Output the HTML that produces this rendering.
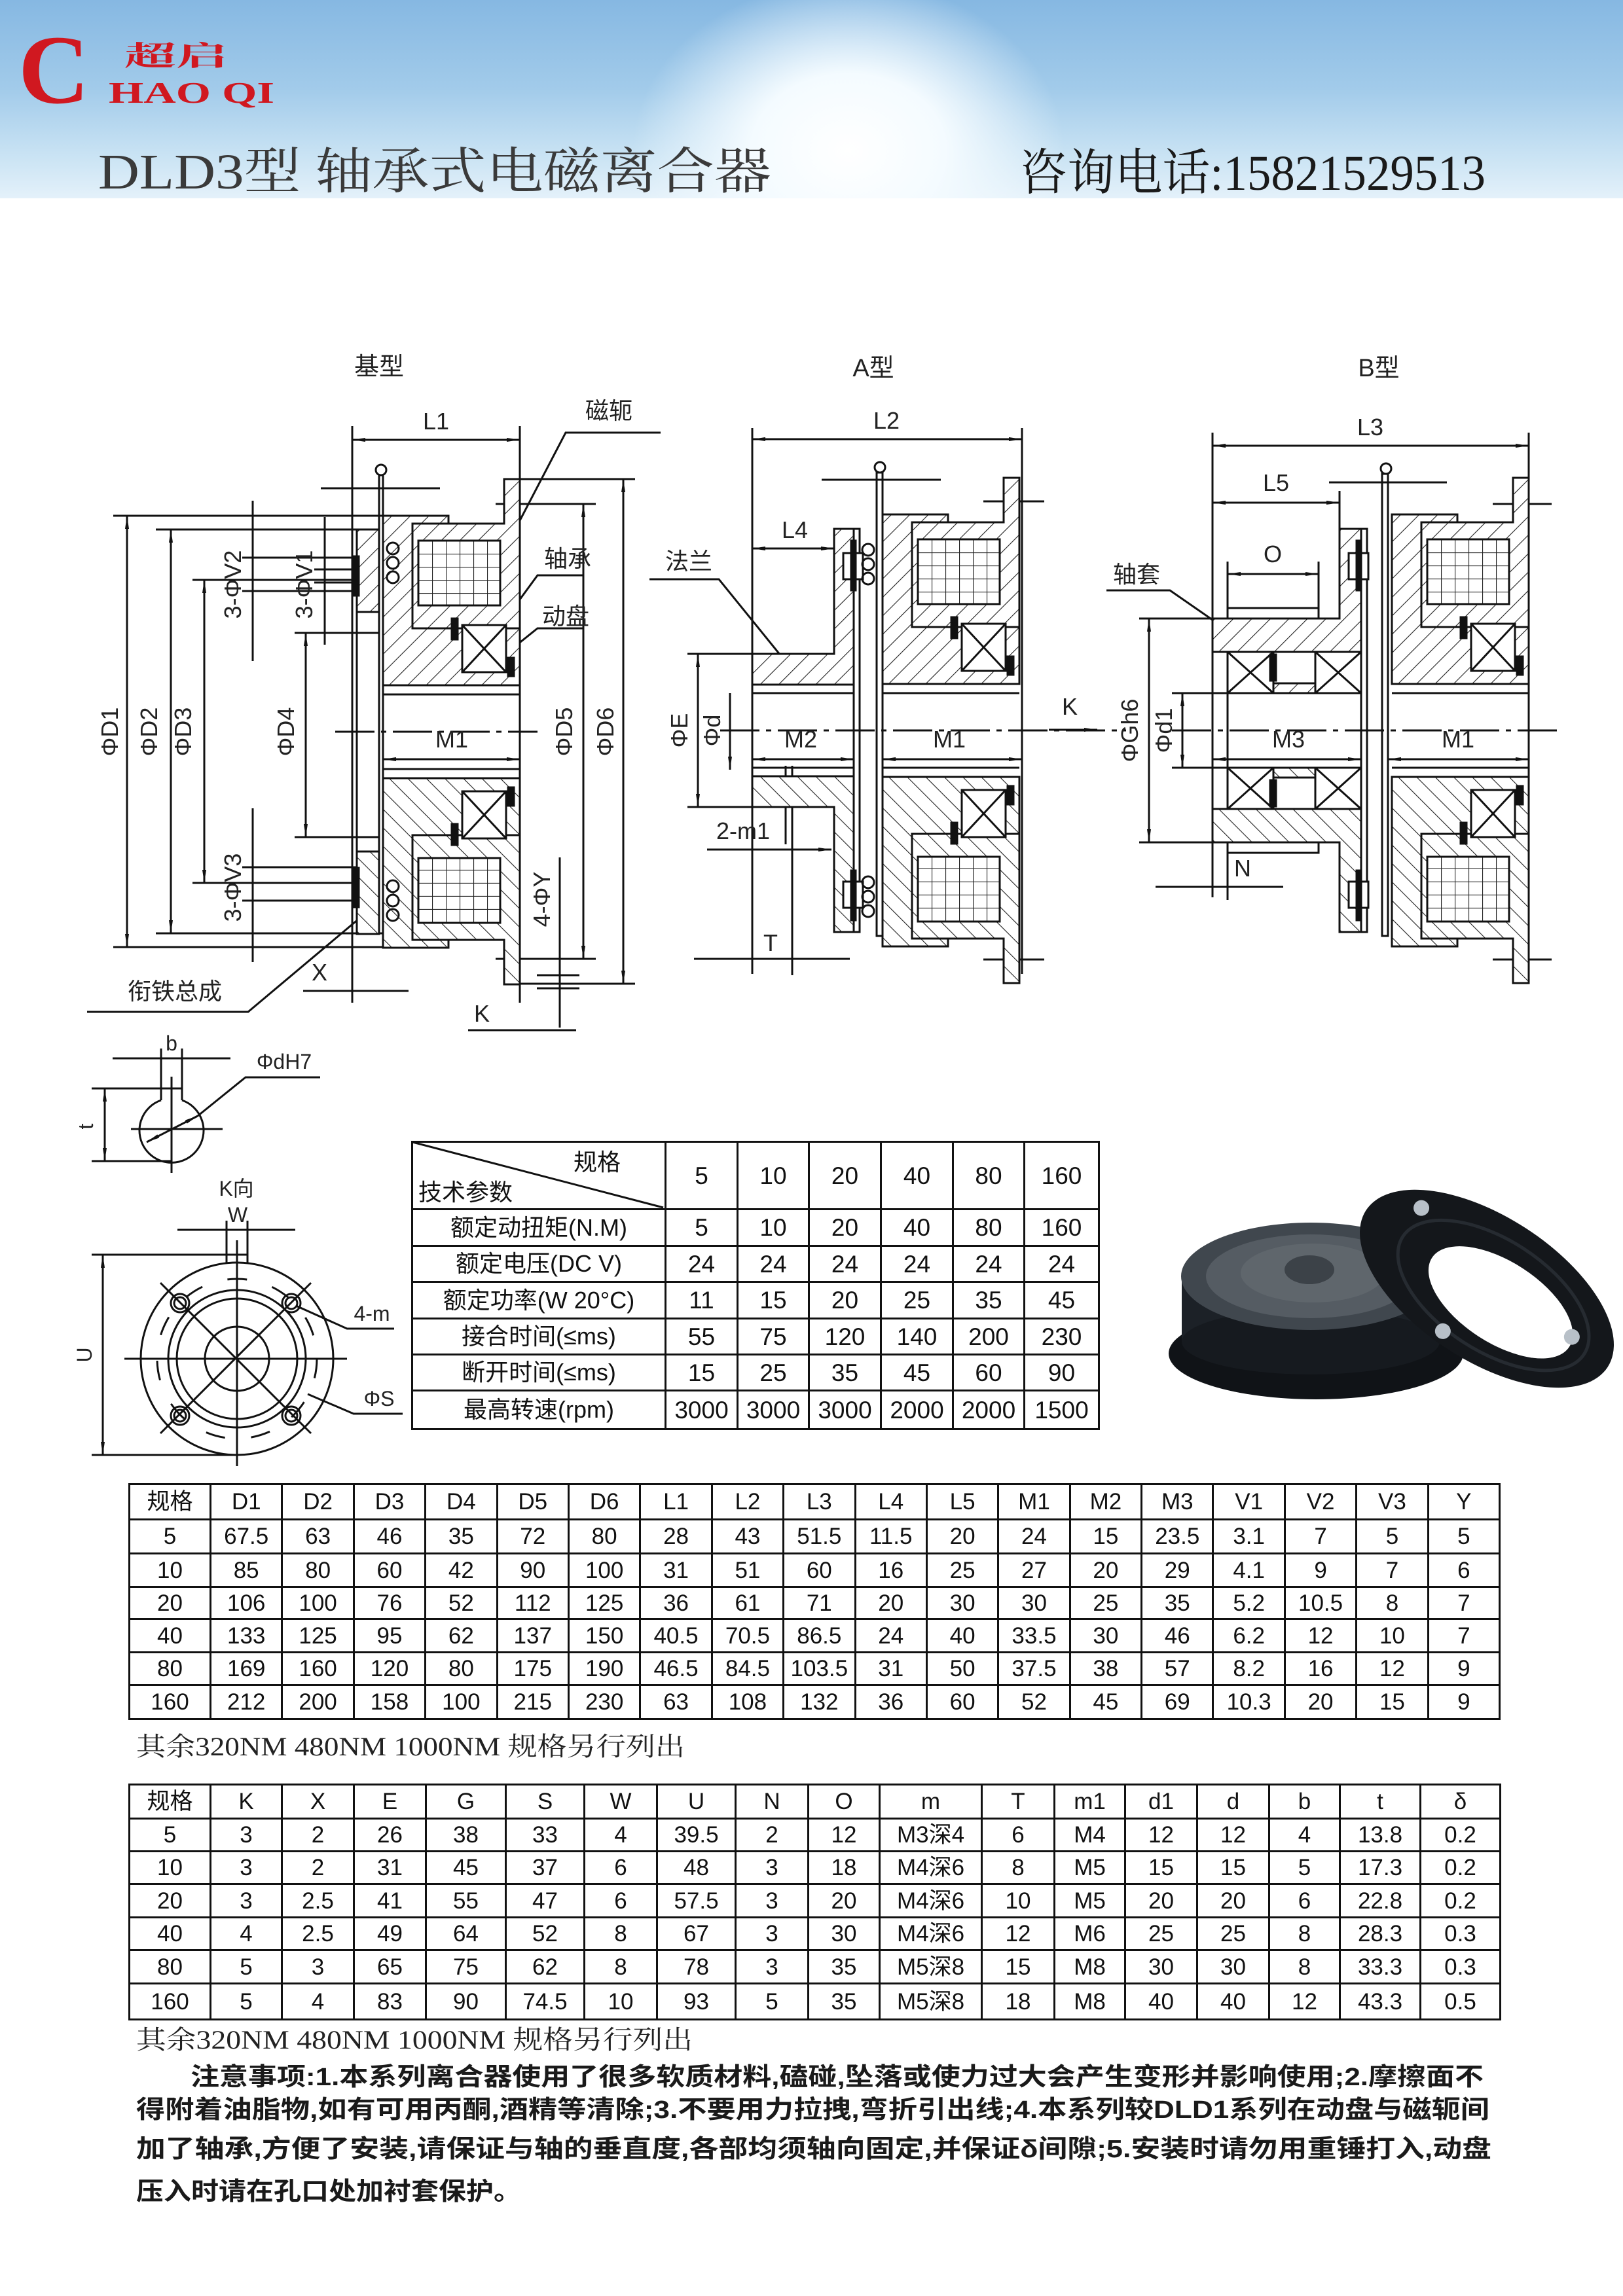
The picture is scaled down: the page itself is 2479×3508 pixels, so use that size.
<!DOCTYPE html>
<html><head><meta charset="utf-8">
<style>
html,body{margin:0;padding:0;background:#fff;}
body{width:2479px;height:3508px;position:relative;overflow:hidden;font-family:"Liberation Sans","Noto Sans CJK SC",sans-serif;}
#hdr{position:absolute;left:0;top:0;width:2479px;height:303px;
background:radial-gradient(ellipse 330px 260px at 1296px 230px,#ffffff 0%,#f4fbff 45%,rgba(220,238,250,0) 100%),linear-gradient(#86b8e2 0%,#a2cbea 45%,#cbe4f4 80%,#e4f1fa 100%);}
table{position:absolute;border-collapse:collapse;table-layout:fixed;font-family:"Liberation Sans Narrow","Liberation Sans","Noto Sans CJK SC",sans-serif;color:#111;}
td{border:3px solid #111;text-align:center;padding:0;white-space:nowrap;overflow:hidden;font-size:36px;line-height:1;}
.t td{font-size:35px;}
.s td{font-size:37px;}
.s td.h{font-family:"Liberation Sans","Noto Sans CJK SC",sans-serif;font-size:36px;}
.cj{font-family:"Liberation Sans","Noto Sans CJK SC",sans-serif;font-size:32px;}
</style></head><body>
<div id="hdr"></div>
<svg width="2479" height="3508" style="position:absolute;left:0;top:0" xmlns="http://www.w3.org/2000/svg">
<defs>
<pattern id="h" patternUnits="userSpaceOnUse" width="20" height="20" patternTransform="rotate(45)"><rect width="20" height="20" fill="#fff"/><line x1="0" y1="0" x2="0" y2="20" stroke="#222" stroke-width="2.2"/></pattern>
<pattern id="g" patternUnits="userSpaceOnUse" width="21" height="20" x="639" y="826"><rect width="21" height="20" fill="#fff"/><path d="M0,0H21M0,0V20" stroke="#222" stroke-width="2.2" fill="none"/></pattern>
<marker id="a" viewBox="0 0 20 8" refX="20" refY="4" markerWidth="20" markerHeight="8" orient="auto-start-reverse" markerUnits="userSpaceOnUse"><path d="M0,1 L20,4 L0,7z" fill="#111"/></marker>
<g id="RU" stroke="#111" stroke-width="3">
 <polygon fill="url(#h)" points="585,788 685,788 685,800 630,800 630,960 794,960 794,1047 585,1047"/>
 <polygon fill="url(#h)" points="630,800 770,800 770,732 794,732 794,960 630,960"/>
 <rect x="639" y="826" width="125" height="99" fill="url(#g)"/>
 <rect x="706" y="955" width="67" height="72" fill="#fff"/>
 <path d="M706,955L773,1027M773,955L706,1027" fill="none"/>
 <rect x="690" y="945" width="9" height="32" fill="#111"/>
 <rect x="776" y="1005" width="9" height="28" fill="#111"/>
 <line x1="585" y1="1061" x2="794" y2="1061"/>
</g>
<g id="BL" stroke="#111" stroke-width="3">
 <rect x="545" y="809" width="34" height="126" fill="url(#h)"/>
 <rect x="538" y="850" width="10" height="60" fill="#111"/>
 <circle cx="600" cy="838" r="9" fill="none"/><circle cx="600" cy="860" r="9" fill="none"/><circle cx="600" cy="882" r="9" fill="none"/>
</g>
<g id="AL" stroke="#111" stroke-width="3">
 <polygon fill="url(#h)" points="1149,999 1274,999 1274,808 1304,808 1304,1046 1149,1046"/>
 <rect x="1288" y="845" width="30" height="40" fill="#fff"/>
 <rect x="1300" y="826" width="7" height="76" fill="#111"/>
 <line x1="1149" y1="1059" x2="1304" y2="1059"/>
 <circle cx="1326" cy="840" r="9" fill="none"/><circle cx="1326" cy="862" r="9" fill="none"/><circle cx="1326" cy="884" r="9" fill="none"/>
</g>
<g id="BBL" stroke="#111" stroke-width="3">
 <polygon fill="url(#h)" points="1852,945 2046,945 2046,808 2079,808 2079,996 1852,996"/>
 <rect x="1875" y="929" width="139" height="16" fill="#fff"/>
 <rect x="1875" y="996" width="70" height="63" fill="#fff"/><path d="M1875,996L1945,1059M1945,996L1875,1059" fill="none"/>
 <rect x="2009" y="996" width="70" height="63" fill="#fff"/><path d="M2009,996L2079,1059M2079,996L2009,1059" fill="none"/>
 <rect x="1945" y="1044" width="64" height="15" fill="url(#h)"/>
 <rect x="1940" y="1000" width="9" height="40" fill="#111"/>
 <line x1="1852" y1="1059" x2="2079" y2="1059"/>
 <rect x="2060" y="845" width="30" height="40" fill="#fff"/>
 <rect x="2072" y="826" width="7" height="76" fill="#111"/>
</g>
</defs>

<!-- header text -->
<text x="28" y="157" font-family="Liberation Serif,serif" font-size="150" fill="#d01820" font-weight="bold">C</text>
<text x="190" y="100" font-family="Liberation Serif,'Noto Serif CJK SC',serif" font-size="42" fill="#d01820" font-weight="bold" textLength="158" lengthAdjust="spacingAndGlyphs">超启</text>
<text x="166" y="157" font-family="Liberation Serif,serif" font-size="46" fill="#d01820" font-weight="bold" textLength="253" lengthAdjust="spacingAndGlyphs">HAO  QI</text>
<text x="150" y="288" font-family="Liberation Serif,'Noto Serif CJK SC',serif" font-size="76" fill="#3a3a3a" textLength="1028" lengthAdjust="spacingAndGlyphs">DLD3型 轴承式电磁离合器</text>
<text x="1557" y="290" font-family="Liberation Serif,'Noto Serif CJK SC',serif" font-size="76" fill="#1a1a1a" textLength="712" lengthAdjust="spacingAndGlyphs">咨询电话:15821529513</text>

<g font-family="Liberation Sans,'Noto Sans CJK SC',sans-serif" font-size="38" fill="#222">
<text x="579" y="573" text-anchor="middle">基型</text>
<text x="1334" y="575" text-anchor="middle">A型</text>
<text x="2106" y="575" text-anchor="middle">B型</text>
</g>

<!-- ===== BASE TYPE ===== -->
<g stroke="#111" stroke-width="3" fill="none">
 <line x1="538" y1="651" x2="538" y2="1532"/><line x1="794" y1="651" x2="794" y2="1532"/>
 <line x1="538" y1="672" x2="794" y2="672" marker-start="url(#a)" marker-end="url(#a)"/>
 <circle cx="582" cy="718" r="8"/>
 <rect x="579" y="726" width="6" height="700" fill="#fff"/>
 <line x1="545" y1="809" x2="545" y2="1426"/>
 <line x1="490" y1="746" x2="672" y2="746"/>
 <line x1="512" y1="1118" x2="821" y2="1118" stroke-dasharray="60,10,8,10"/>
 <line x1="585" y1="1160" x2="794" y2="1160" marker-start="url(#a)" marker-end="url(#a)"/>
 <line x1="173" y1="788" x2="685" y2="788"/><line x1="173" y1="1447" x2="685" y2="1447"/>
 <line x1="194" y1="788" x2="194" y2="1447" marker-start="url(#a)" marker-end="url(#a)"/>
 <line x1="238" y1="809" x2="545" y2="809"/><line x1="238" y1="1426" x2="545" y2="1426"/>
 <line x1="261" y1="809" x2="261" y2="1426" marker-start="url(#a)" marker-end="url(#a)"/>
 <line x1="294" y1="886" x2="560" y2="886"/><line x1="294" y1="1349" x2="560" y2="1349"/>
 <line x1="312" y1="886" x2="312" y2="1349" marker-start="url(#a)" marker-end="url(#a)"/>
 <line x1="450" y1="967" x2="579" y2="967"/><line x1="450" y1="1279" x2="579" y2="1279"/>
 <line x1="467" y1="967" x2="467" y2="1279" marker-start="url(#a)" marker-end="url(#a)"/>
 <line x1="757" y1="770" x2="910" y2="770"/><line x1="757" y1="1465" x2="910" y2="1465"/>
 <line x1="891" y1="770" x2="891" y2="1465" marker-start="url(#a)" marker-end="url(#a)"/>
 <line x1="794" y1="732" x2="970" y2="732"/><line x1="794" y1="1503" x2="970" y2="1503"/>
 <line x1="952" y1="732" x2="952" y2="1503" marker-start="url(#a)" marker-end="url(#a)"/>
 <line x1="386" y1="765" x2="386" y2="1010"/><line x1="370" y1="852" x2="560" y2="852"/><line x1="370" y1="903" x2="560" y2="903"/>
 <line x1="496" y1="790" x2="496" y2="985"/><line x1="480" y1="870" x2="545" y2="870"/><line x1="480" y1="890" x2="545" y2="890"/>
 <line x1="386" y1="1235" x2="386" y2="1470"/><line x1="370" y1="1325" x2="545" y2="1325"/><line x1="370" y1="1376" x2="545" y2="1376"/>
 <line x1="855" y1="1310" x2="855" y2="1570"/><line x1="820" y1="1490" x2="885" y2="1490"/><line x1="820" y1="1510" x2="885" y2="1510"/>
 <line x1="463" y1="1514" x2="624" y2="1514"/><line x1="715" y1="1574" x2="880" y2="1574"/>
 <polyline points="1009,661 864,661 778,826"/>
 <polyline points="891,879 821,879 739,991"/>
 <polyline points="891,960 821,960 730,1033"/>
 <polyline points="133,1546 379,1546 567,1388"/>
</g>
<use href="#RU"/><use href="#RU" transform="translate(0,2236) scale(1,-1)"/>
<use href="#BL"/><use href="#BL" transform="translate(0,2236) scale(1,-1)"/>
<g font-family="Liberation Sans,'Noto Sans CJK SC',sans-serif" font-size="36" fill="#222">
 <text x="666" y="656" text-anchor="middle">L1</text>
 <text x="690" y="1142" text-anchor="middle">M1</text>
 <text x="930" y="640" text-anchor="middle">磁轭</text>
 <text x="867" y="866" text-anchor="middle">轴承</text>
 <text x="864" y="954" text-anchor="middle">动盘</text>
 <text x="267" y="1527" text-anchor="middle">衔铁总成</text>
 <text x="488" y="1498" text-anchor="middle">X</text>
 <text x="736" y="1561" text-anchor="middle">K</text>
 <g text-anchor="middle">
 <text transform="translate(180,1118) rotate(-90)">ΦD1</text>
 <text transform="translate(240,1118) rotate(-90)">ΦD2</text>
 <text transform="translate(292,1118) rotate(-90)">ΦD3</text>
 <text transform="translate(449,1118) rotate(-90)">ΦD4</text>
 <text transform="translate(874,1118) rotate(-90)">ΦD5</text>
 <text transform="translate(937,1118) rotate(-90)">ΦD6</text>
 <text transform="translate(368,893) rotate(-90)">3-ΦV2</text>
 <text transform="translate(477,893) rotate(-90)">3-ΦV1</text>
 <text transform="translate(368,1356) rotate(-90)">3-ΦV3</text>
 <text transform="translate(840,1374) rotate(-90)">4-ΦY</text>
 </g>
</g>

<!-- ===== A TYPE ===== -->
<g stroke="#111" stroke-width="3" fill="none">
 <line x1="1149" y1="654" x2="1149" y2="1488"/><line x1="1561" y1="654" x2="1561" y2="1488"/>
 <line x1="1149" y1="671" x2="1561" y2="671" marker-start="url(#a)" marker-end="url(#a)"/>
 <circle cx="1344" cy="714" r="8"/>
 <rect x="1304" y="808" width="9" height="616" fill="#fff"/>
 <rect x="1339" y="722" width="9" height="708" fill="#fff"/>
 <line x1="1255" y1="733" x2="1437" y2="733"/>
 <line x1="1502" y1="766" x2="1595" y2="766"/><line x1="1502" y1="1466" x2="1595" y2="1466"/>
 <line x1="1149" y1="838" x2="1274" y2="838" marker-start="url(#a)" marker-end="url(#a)"/>
 <line x1="1050" y1="999" x2="1149" y2="999"/><line x1="1050" y1="1233" x2="1149" y2="1233"/>
 <line x1="1066" y1="999" x2="1066" y2="1233" marker-start="url(#a)" marker-end="url(#a)"/>
 <line x1="1115" y1="1059" x2="1115" y2="1176" marker-end="url(#a)"/>
 <line x1="1100" y1="1116" x2="1720" y2="1116" stroke-dasharray="60,10,8,10"/>
 <line x1="1149" y1="1160" x2="1304" y2="1160" marker-start="url(#a)" marker-end="url(#a)"/>
 <line x1="1348" y1="1160" x2="1561" y2="1160" marker-start="url(#a)" marker-end="url(#a)"/>
 <line x1="1602" y1="1115" x2="1676" y2="1115" marker-end="url(#a)"/>
 <line x1="1200" y1="1170" x2="1200" y2="1290"/><line x1="1210" y1="1170" x2="1210" y2="1490"/>
 <line x1="1080" y1="1298" x2="1270" y2="1298" marker-end="url(#a)"/>
 <line x1="1060" y1="1465" x2="1298" y2="1465"/>
 <polyline points="992,885 1098,885 1209,1022"/>
</g>
<use href="#AL"/><use href="#AL" transform="translate(0,2232) scale(1,-1)"/>
<use href="#RU" transform="translate(763,-2)"/><use href="#RU" transform="translate(763,2234) scale(1,-1)"/>
<g font-family="Liberation Sans,'Noto Sans CJK SC',sans-serif" font-size="36" fill="#222">
 <text x="1354" y="655" text-anchor="middle">L2</text>
 <text x="1214" y="822" text-anchor="middle">L4</text>
 <text x="1052" y="870" text-anchor="middle">法兰</text>
 <text x="1223" y="1142" text-anchor="middle">M2</text>
 <text x="1450" y="1142" text-anchor="middle">M1</text>
 <text x="1634" y="1092" text-anchor="middle">K</text>
 <text x="1135" y="1282" text-anchor="middle">2-m1</text>
 <text x="1177" y="1453" text-anchor="middle">T</text>
 <text transform="translate(1050,1116) rotate(-90)" text-anchor="middle">ΦE</text>
 <text transform="translate(1100,1116) rotate(-90)" text-anchor="middle">Φd</text>
</g>

<!-- ===== B TYPE ===== -->
<g stroke="#111" stroke-width="3" fill="none">
 <line x1="1852" y1="661" x2="1852" y2="1371"/><line x1="2335" y1="661" x2="2335" y2="1488"/>
 <line x1="1875" y1="929" x2="1875" y2="1375"/>
 <line x1="1852" y1="681" x2="2335" y2="681" marker-start="url(#a)" marker-end="url(#a)"/>
 <line x1="2046" y1="750" x2="2046" y2="808"/>
 <line x1="1852" y1="768" x2="2046" y2="768" marker-start="url(#a)" marker-end="url(#a)"/>
 <line x1="2014" y1="858" x2="2014" y2="929"/><line x1="1875" y1="858" x2="1875" y2="929"/>
 <line x1="1875" y1="877" x2="2014" y2="877" marker-start="url(#a)" marker-end="url(#a)"/>
 <circle cx="2117" cy="716" r="8"/>
 <rect x="2079" y="808" width="9" height="616" fill="#fff"/>
 <rect x="2111" y="724" width="9" height="706" fill="#fff"/>
 <line x1="2030" y1="737" x2="2210" y2="737"/>
 <line x1="2280" y1="770" x2="2370" y2="770"/><line x1="2280" y1="1466" x2="2370" y2="1466"/>
 <line x1="1740" y1="945" x2="1852" y2="945"/><line x1="1740" y1="1287" x2="1852" y2="1287"/>
 <line x1="1755" y1="945" x2="1755" y2="1287" marker-start="url(#a)" marker-end="url(#a)"/>
 <line x1="1790" y1="1059" x2="1852" y2="1059"/><line x1="1790" y1="1173" x2="1852" y2="1173"/>
 <line x1="1806" y1="1059" x2="1806" y2="1173" marker-start="url(#a)" marker-end="url(#a)"/>
 <line x1="1790" y1="1116" x2="2380" y2="1116" stroke-dasharray="60,10,8,10"/>
 <line x1="1852" y1="1160" x2="2079" y2="1160" marker-start="url(#a)" marker-end="url(#a)"/>
 <line x1="2120" y1="1160" x2="2335" y2="1160" marker-start="url(#a)" marker-end="url(#a)"/>
 <line x1="1765" y1="1355" x2="1960" y2="1355"/>
 <polyline points="1690,902 1787,902 1898,979"/>
</g>
<use href="#BBL"/><use href="#BBL" transform="translate(0,2232) scale(1,-1)"/>
<use href="#RU" transform="translate(1541,-2)"/><use href="#RU" transform="translate(1541,2234) scale(1,-1)"/>
<g font-family="Liberation Sans,'Noto Sans CJK SC',sans-serif" font-size="36" fill="#222">
 <text x="2093" y="665" text-anchor="middle">L3</text>
 <text x="1949" y="750" text-anchor="middle">L5</text>
 <text x="1944" y="859" text-anchor="middle">O</text>
 <text x="1736" y="890" text-anchor="middle">轴套</text>
 <text x="1968" y="1142" text-anchor="middle">M3</text>
 <text x="2227" y="1142" text-anchor="middle">M1</text>
 <text x="1898" y="1339" text-anchor="middle">N</text>
 <text transform="translate(1738,1116) rotate(-90)" text-anchor="middle">ΦGh6</text>
 <text transform="translate(1790,1116) rotate(-90)" text-anchor="middle">Φd1</text>
</g>

<!-- ===== keyway & K view ===== -->
<g stroke="#111" stroke-width="3" fill="none">
 <path d="M246,1681 A49,49 0 1 0 278,1681"/>
 <line x1="246" y1="1602" x2="246" y2="1681"/><line x1="278" y1="1602" x2="278" y2="1681"/>
 <line x1="172" y1="1617" x2="352" y2="1617"/>
 <line x1="140" y1="1663" x2="278" y2="1663"/><line x1="140" y1="1774" x2="262" y2="1774"/>
 <line x1="160" y1="1663" x2="160" y2="1774" marker-start="url(#a)" marker-end="url(#a)"/>
 <line x1="262" y1="1645" x2="262" y2="1792"/><line x1="200" y1="1725" x2="340" y2="1725"/>
 <line x1="224" y1="1745" x2="302" y2="1705" marker-start="url(#a)" marker-end="url(#a)"/>
 <polyline points="302,1705 375,1646 489,1646"/>
 <circle cx="362" cy="2076" r="147"/>
 <circle cx="362" cy="2076" r="122" stroke-dasharray="30,40"/>
 <circle cx="362" cy="2076" r="105"/>
 <circle cx="362" cy="2076" r="92"/>
 <circle cx="362" cy="2076" r="49"/>
 <line x1="190" y1="2076" x2="530" y2="2076"/>
 <line x1="362" y1="1895" x2="362" y2="2240"/>
 <line x1="245" y1="1960" x2="475" y2="2190"/><line x1="475" y1="1960" x2="245" y2="2190"/>
 <circle cx="275" cy="1991" r="14"/><circle cx="275" cy="1991" r="9"/>
 <circle cx="445" cy="1991" r="14"/><circle cx="445" cy="1991" r="9"/>
 <circle cx="275" cy="2163" r="14"/><circle cx="275" cy="2163" r="9"/>
 <circle cx="445" cy="2163" r="14"/><circle cx="445" cy="2163" r="9"/>
 <line x1="346" y1="1865" x2="346" y2="1930"/><line x1="378" y1="1865" x2="378" y2="1930"/>
 <line x1="271" y1="1879" x2="451" y2="1879"/>
 <line x1="140" y1="1917" x2="378" y2="1917"/><line x1="140" y1="2223" x2="362" y2="2223"/>
 <line x1="157" y1="1917" x2="157" y2="2223" marker-start="url(#a)" marker-end="url(#a)"/>
 <polyline points="452,1995 530,2030 602,2030"/>
 <polyline points="470,2130 540,2160 615,2160"/>
</g>
<g font-family="Liberation Sans,'Noto Sans CJK SC',sans-serif" font-size="32" fill="#222">
 <text x="262" y="1605" text-anchor="middle">b</text>
 <text x="434" y="1633" text-anchor="middle">ΦdH7</text>
 <text transform="translate(142,1721) rotate(-90)" text-anchor="middle">t</text>
 <text x="361" y="1827" text-anchor="middle">K向</text>
 <text x="363" y="1867" text-anchor="middle">W</text>
 <text x="568" y="2018" text-anchor="middle">4-m</text>
 <text x="579" y="2148" text-anchor="middle">ΦS</text>
 <text transform="translate(140,2070) rotate(-90)" text-anchor="middle">U</text>
</g>

<line x1="630" y1="1745" x2="1013" y2="1845" stroke="#111" stroke-width="3"/>

<!-- photo -->
<g>
 <ellipse cx="2010" cy="2068" rx="225" ry="70" fill="#101317"/>
 <rect x="1805" y="1950" width="395" height="100" fill="#1c2127"/>
 <ellipse cx="2002" cy="2050" rx="197" ry="50" fill="#161a1f"/>
 <ellipse cx="2002" cy="1950" rx="198" ry="82" fill="#40474e"/>
 <ellipse cx="2002" cy="1950" rx="160" ry="64" fill="#555c63"/>
 <ellipse cx="2005" cy="1945" rx="110" ry="45" fill="#5f666c"/>
 <ellipse cx="2000" cy="1940" rx="38" ry="22" fill="#3c4248"/>
 <g transform="rotate(33 2271 1969)">
  <ellipse cx="2271" cy="1969" rx="220" ry="110" fill="#14171b"/>
  <ellipse cx="2300" cy="1975" rx="125" ry="62" fill="#fff"/>
  <ellipse cx="2285" cy="1972" rx="165" ry="85" fill="none" stroke="#262b31" stroke-width="5"/>
  <circle cx="2120" cy="1920" r="12" fill="#b8c0c8"/>
  <circle cx="2420" cy="1960" r="12" fill="#b8c0c8"/>
  <circle cx="2250" cy="2060" r="12" fill="#b8c0c8"/>
 </g>
</g>

<!-- notes -->
<g font-family="'Liberation Serif','Noto Serif CJK SC',serif" font-size="40" fill="#222">
 <text x="208" y="2682" textLength="838" lengthAdjust="spacingAndGlyphs">其余320NM 480NM 1000NM 规格另行列出</text>
 <text x="208" y="3130" textLength="850" lengthAdjust="spacingAndGlyphs">其余320NM 480NM 1000NM 规格另行列出</text>
</g>
<g font-family="'Liberation Sans','Noto Sans CJK SC',sans-serif" font-size="38" fill="#1a1a1a" font-weight="bold">
 <text x="291" y="3186" textLength="1975" lengthAdjust="spacingAndGlyphs">注意事项:1.本系列离合器使用了很多软质材料,磕碰,坠落或使力过大会产生变形并影响使用;2.摩擦面不</text>
 <text x="208" y="3236" textLength="2067" lengthAdjust="spacingAndGlyphs">得附着油脂物,如有可用丙酮,酒精等清除;3.不要用力拉拽,弯折引出线;4.本系列较DLD1系列在动盘与磁轭间</text>
 <text x="208" y="3296" textLength="2070" lengthAdjust="spacingAndGlyphs">加了轴承,方便了安装,请保证与轴的垂直度,各部均须轴向固定,并保证δ间隙;5.安装时请勿用重锤打入,动盘</text>
 <text x="208" y="3361" textLength="588" lengthAdjust="spacingAndGlyphs">压入时请在孔口处加衬套保护。</text>
</g>
</svg>

<table class="s" style="left:628px;top:1743px;width:1049px;">
<colgroup><col style="width:387px"><col style="width:110px"><col style="width:109px"><col style="width:110px"><col style="width:110px"><col style="width:109px"><col style="width:114px"></colgroup>
<tr style="height:103px"><td class="h" style="position:relative;"><span style="position:absolute;left:245px;top:12px;">规格</span><span style="position:absolute;left:8px;top:58px;">技术参数</span></td><td>5</td><td>10</td><td>20</td><td>40</td><td>80</td><td>160</td></tr>
<tr style="height:56px"><td class="h">额定动扭矩(N.M)</td><td>5</td><td>10</td><td>20</td><td>40</td><td>80</td><td>160</td></tr>
<tr style="height:55px"><td class="h">额定电压(DC V)</td><td>24</td><td>24</td><td>24</td><td>24</td><td>24</td><td>24</td></tr>
<tr style="height:56px"><td class="h">额定功率(W 20°C)</td><td>11</td><td>15</td><td>20</td><td>25</td><td>35</td><td>45</td></tr>
<tr style="height:55px"><td class="h">接合时间(≤ms)</td><td>55</td><td>75</td><td>120</td><td>140</td><td>200</td><td>230</td></tr>
<tr style="height:55px"><td class="h">断开时间(≤ms)</td><td>15</td><td>25</td><td>35</td><td>45</td><td>60</td><td>90</td></tr>
<tr style="height:59px"><td class="h">最高转速(rpm)</td><td>3000</td><td>3000</td><td>3000</td><td>2000</td><td>2000</td><td>1500</td></tr>
</table>

<table class="t" style="left:196px;top:2266px;width:2094px;">
<colgroup><col style="width:124px"><col span="18" style="width:109.4px"></colgroup>
<tr style="height:54px"><td class="cj">规格</td><td>D1</td><td>D2</td><td>D3</td><td>D4</td><td>D5</td><td>D6</td><td>L1</td><td>L2</td><td>L3</td><td>L4</td><td>L5</td><td>M1</td><td>M2</td><td>M3</td><td>V1</td><td>V2</td><td>V3</td><td>Y</td></tr>
<tr style="height:52px"><td>5</td><td>67.5</td><td>63</td><td>46</td><td>35</td><td>72</td><td>80</td><td>28</td><td>43</td><td>51.5</td><td>11.5</td><td>20</td><td>24</td><td>15</td><td>23.5</td><td>3.1</td><td>7</td><td>5</td><td>5</td></tr>
<tr style="height:51px"><td>10</td><td>85</td><td>80</td><td>60</td><td>42</td><td>90</td><td>100</td><td>31</td><td>51</td><td>60</td><td>16</td><td>25</td><td>27</td><td>20</td><td>29</td><td>4.1</td><td>9</td><td>7</td><td>6</td></tr>
<tr style="height:49px"><td>20</td><td>106</td><td>100</td><td>76</td><td>52</td><td>112</td><td>125</td><td>36</td><td>61</td><td>71</td><td>20</td><td>30</td><td>30</td><td>25</td><td>35</td><td>5.2</td><td>10.5</td><td>8</td><td>7</td></tr>
<tr style="height:51px"><td>40</td><td>133</td><td>125</td><td>95</td><td>62</td><td>137</td><td>150</td><td>40.5</td><td>70.5</td><td>86.5</td><td>24</td><td>40</td><td>33.5</td><td>30</td><td>46</td><td>6.2</td><td>12</td><td>10</td><td>7</td></tr>
<tr style="height:50px"><td>80</td><td>169</td><td>160</td><td>120</td><td>80</td><td>175</td><td>190</td><td>46.5</td><td>84.5</td><td>103.5</td><td>31</td><td>50</td><td>37.5</td><td>38</td><td>57</td><td>8.2</td><td>16</td><td>12</td><td>9</td></tr>
<tr style="height:52px"><td>160</td><td>212</td><td>200</td><td>158</td><td>100</td><td>215</td><td>230</td><td>63</td><td>108</td><td>132</td><td>36</td><td>60</td><td>52</td><td>45</td><td>69</td><td>10.3</td><td>20</td><td>15</td><td>9</td></tr>
</table>

<table class="t" style="left:196px;top:2725px;width:2094px;">
<colgroup><col style="width:124px"><col style="width:109px"><col style="width:110px"><col style="width:110px"><col style="width:122px"><col style="width:120px"><col style="width:111px"><col style="width:120px"><col style="width:111px"><col style="width:109px"><col style="width:156px"><col style="width:111px"><col style="width:108px"><col style="width:110px"><col style="width:110px"><col style="width:108px"><col style="width:123px"><col style="width:122px"></colgroup>
<tr style="height:52px"><td class="cj">规格</td><td>K</td><td>X</td><td>E</td><td>G</td><td>S</td><td>W</td><td>U</td><td>N</td><td>O</td><td>m</td><td>T</td><td>m1</td><td>d1</td><td>d</td><td>b</td><td>t</td><td>δ</td></tr>
<tr style="height:50px"><td>5</td><td>3</td><td>2</td><td>26</td><td>38</td><td>33</td><td>4</td><td>39.5</td><td>2</td><td>12</td><td class="cj">M3深4</td><td>6</td><td>M4</td><td>12</td><td>12</td><td>4</td><td>13.8</td><td>0.2</td></tr>
<tr style="height:50px"><td>10</td><td>3</td><td>2</td><td>31</td><td>45</td><td>37</td><td>6</td><td>48</td><td>3</td><td>18</td><td class="cj">M4深6</td><td>8</td><td>M5</td><td>15</td><td>15</td><td>5</td><td>17.3</td><td>0.2</td></tr>
<tr style="height:51px"><td>20</td><td>3</td><td>2.5</td><td>41</td><td>55</td><td>47</td><td>6</td><td>57.5</td><td>3</td><td>20</td><td class="cj">M4深6</td><td>10</td><td>M5</td><td>20</td><td>20</td><td>6</td><td>22.8</td><td>0.2</td></tr>
<tr style="height:50px"><td>40</td><td>4</td><td>2.5</td><td>49</td><td>64</td><td>52</td><td>8</td><td>67</td><td>3</td><td>30</td><td class="cj">M4深6</td><td>12</td><td>M6</td><td>25</td><td>25</td><td>8</td><td>28.3</td><td>0.3</td></tr>
<tr style="height:51px"><td>80</td><td>5</td><td>3</td><td>65</td><td>75</td><td>62</td><td>8</td><td>78</td><td>3</td><td>35</td><td class="cj">M5深8</td><td>15</td><td>M8</td><td>30</td><td>30</td><td>8</td><td>33.3</td><td>0.3</td></tr>
<tr style="height:55px"><td>160</td><td>5</td><td>4</td><td>83</td><td>90</td><td>74.5</td><td>10</td><td>93</td><td>5</td><td>35</td><td class="cj">M5深8</td><td>18</td><td>M8</td><td>40</td><td>40</td><td>12</td><td>43.3</td><td>0.5</td></tr>
</table>
</body></html>
